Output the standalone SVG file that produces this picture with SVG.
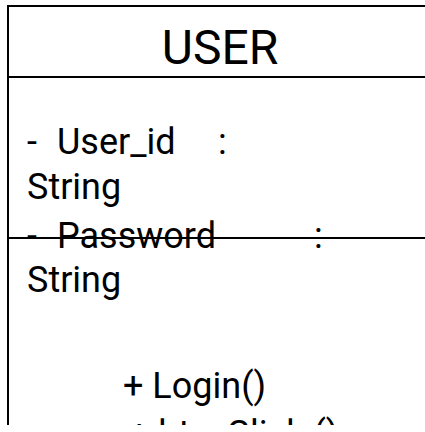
<svg xmlns="http://www.w3.org/2000/svg" width="425" height="432" viewBox="0 0 425 432">
  <style>
    .edge { stroke: #000; stroke-width: 2; fill: none; }
    .t { font-family: Roboto, "Liberation Sans", sans-serif; fill: #000; }
    .title { font-size: 48px; }
    .row { font-size: 36px; }
  </style>
  <defs>
    <clipPath id="frame">
      <rect x="0" y="0" width="425" height="425"/>
    </clipPath>
  </defs>
  <rect width="425" height="432" fill="#fff"/>
  <g id="user-class" clip-path="url(#frame)">
    <!-- outer frame: left and top edges, compartment dividers -->
    <path class="edge" d="M8 440 V6 H430"/>
    <path class="edge" d="M8 77 H430"/>
    <path class="edge" d="M8 238 H430"/>
    <text class="t title" x="220" y="64" text-anchor="middle">USER</text>
    <text class="t row" x="27" y="154">- <tspan x="57">User_id</tspan><tspan x="218">:</tspan></text>
    <text class="t row" x="27" y="199">String</text>
    <text class="t row" x="27" y="248">- <tspan x="57">Password</tspan><tspan x="314">:</tspan></text>
    <text class="t row" x="27" y="292">String</text>
    <text class="t row" x="123" y="398">+ Login()</text>
    <text class="t row" x="129" y="446">+ btn_Click ()</text>
  </g>
</svg>
